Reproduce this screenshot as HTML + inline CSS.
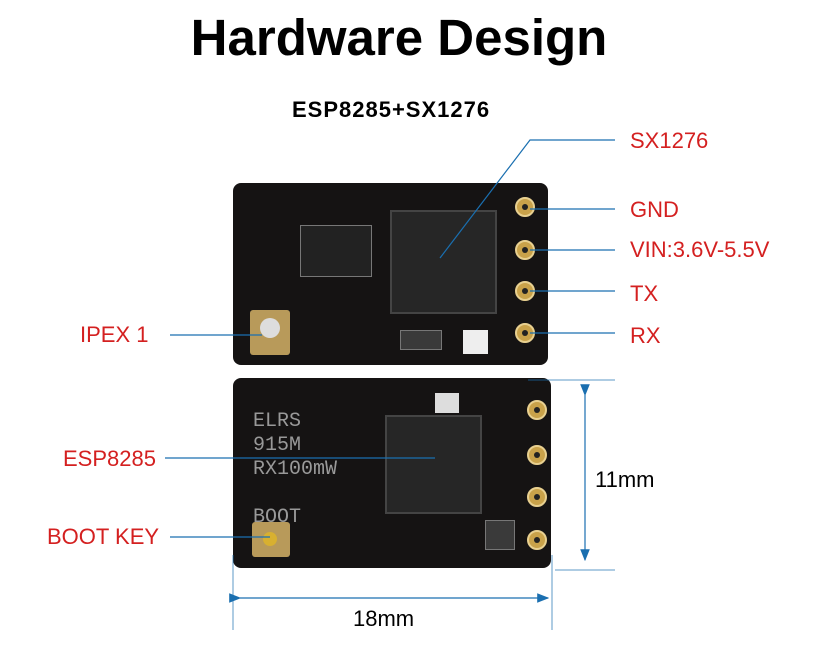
<!DOCTYPE html>
<html><head><meta charset="utf-8"><style>
body{margin:0;width:829px;height:657px;background:#fff;position:relative;overflow:hidden;font-family:"Liberation Sans",sans-serif}
.a{position:absolute}
.red{color:#d42020;font-size:22px}
.board{position:absolute;background:#151313;border-radius:8px}
.pad{position:absolute;width:20px;height:20px;border-radius:50%;background:#c9a24a;border:2px solid #e8d090;box-sizing:border-box}
.pad::after{content:"";position:absolute;left:5px;top:5px;width:6px;height:6px;border-radius:50%;background:#222}
.chip{position:absolute;background:#262626;border:2px solid #444}
.sm{position:absolute;background:#3a3a3a;border:1px solid #777}
</style></head><body>
<div class="a" style="left:0;width:798px;top:8px;text-align:center;font-weight:bold;font-size:51px">Hardware Design</div>
<div class="a" style="left:292px;top:97px;font-weight:bold;font-size:22px;letter-spacing:1px">ESP8285+SX1276</div>

<div class="board" style="left:233px;top:183px;width:315px;height:182px"></div>
<div class="chip" style="left:390px;top:210px;width:103px;height:100px"></div>
<div class="pad" style="left:515px;top:197px"></div>
<div class="pad" style="left:515px;top:240px"></div>
<div class="pad" style="left:515px;top:281px"></div>
<div class="pad" style="left:515px;top:323px"></div>
<div class="a" style="left:250px;top:310px;width:40px;height:45px;background:#b89a5a;border-radius:3px"></div>
<div class="a" style="left:260px;top:318px;width:20px;height:20px;background:#ddd;border-radius:50%"></div>
<div class="a" style="left:463px;top:330px;width:25px;height:24px;background:#eee"></div>
<div class="sm" style="left:400px;top:330px;width:40px;height:18px"></div>
<div class="sm" style="left:300px;top:225px;width:70px;height:50px;background:#222"></div>

<div class="board" style="left:233px;top:378px;width:318px;height:190px"></div>
<div class="chip" style="left:385px;top:415px;width:93px;height:95px"></div>
<div class="pad" style="left:527px;top:400px"></div>
<div class="pad" style="left:527px;top:445px"></div>
<div class="pad" style="left:527px;top:487px"></div>
<div class="pad" style="left:527px;top:530px"></div>
<div class="a" style="left:252px;top:522px;width:38px;height:35px;background:#b89a5a;border-radius:3px"></div>
<div class="a" style="left:263px;top:532px;width:14px;height:14px;background:#d8b030;border-radius:50%"></div>
<div class="a" style="left:435px;top:393px;width:24px;height:20px;background:#ddd"></div>
<div class="a" style="left:253px;top:410px;color:#999;font-size:20px;font-family:'Liberation Mono',monospace;line-height:24px">ELRS<br>915M<br>RX100mW<br><br>BOOT</div>
<div class="sm" style="left:485px;top:520px;width:28px;height:28px"></div>

<svg class="a" style="left:0;top:0" width="829" height="657">
<defs><marker id="ar" markerWidth="10" markerHeight="8" refX="9" refY="4" orient="auto"><path d="M0,0L10,4L0,8z" fill="#1a6fb0"/></marker></defs>
<g stroke="#1a6fb0" stroke-width="1.2" fill="none">
<path d="M440 258 L530 140 L615 140"/>
<line x1="530" y1="209" x2="615" y2="209"/>
<line x1="530" y1="250" x2="615" y2="250"/>
<line x1="530" y1="291" x2="615" y2="291"/>
<line x1="530" y1="333" x2="615" y2="333"/>
<line x1="170" y1="335" x2="262" y2="335"/>
<line x1="165" y1="458" x2="435" y2="458"/>
<line x1="170" y1="537" x2="270" y2="537"/>
<line x1="585" y1="395" x2="585" y2="560" marker-start="url(#ar)" marker-end="url(#ar)"/>
<line x1="240" y1="598" x2="548" y2="598" marker-start="url(#ar)" marker-end="url(#ar)"/>
</g>
<g stroke="#1a6fb0" stroke-width="1" opacity=".7">
<line x1="528" y1="380" x2="615" y2="380"/>
<line x1="555" y1="570" x2="615" y2="570"/>
<line x1="233" y1="555" x2="233" y2="630"/>
<line x1="552" y1="555" x2="552" y2="630"/>
</g>
</svg>
<div class="a red" style="left:630px;top:128px">SX1276</div>
<div class="a red" style="left:630px;top:197px">GND</div>
<div class="a red" style="left:630px;top:237px">VIN:3.6V-5.5V</div>
<div class="a red" style="left:630px;top:281px">TX</div>
<div class="a red" style="left:630px;top:323px">RX</div>
<div class="a red" style="left:80px;top:322px">IPEX 1</div>
<div class="a red" style="left:63px;top:446px">ESP8285</div>
<div class="a red" style="left:47px;top:524px">BOOT KEY</div>
<div class="a" style="left:595px;top:467px;font-size:22px">11mm</div>
<div class="a" style="left:353px;top:606px;font-size:22px">18mm</div>
</body></html>
